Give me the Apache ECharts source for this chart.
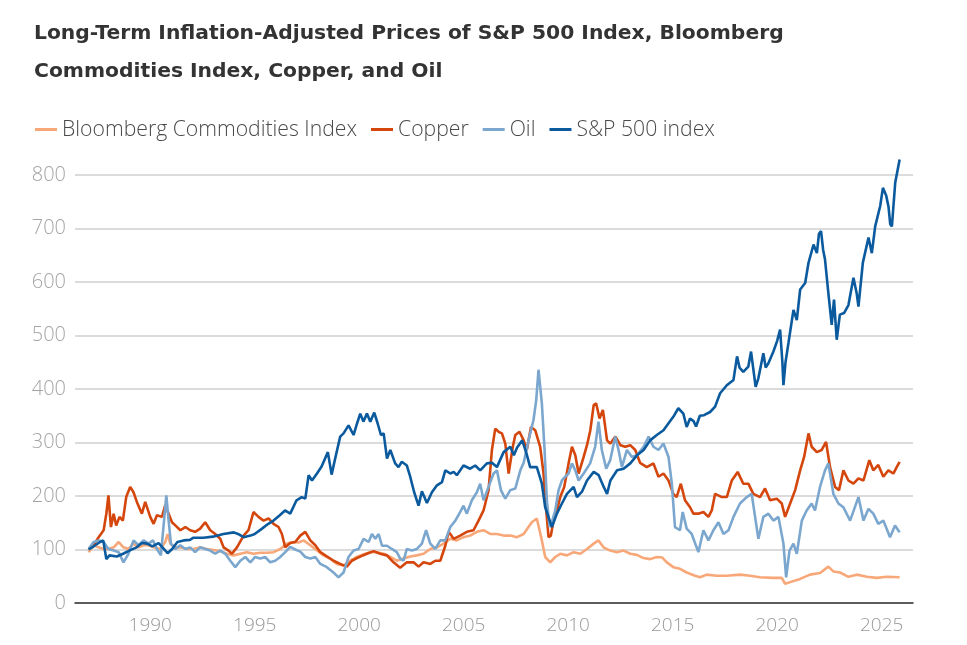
<!DOCTYPE html>
<html>
<head>
<meta charset="utf-8">
<script src="https://cdn.jsdelivr.net/npm/echarts@6/dist/echarts.min.js"></script>
<style>
  html, body { margin: 0; padding: 0; background: #fff; }
  #chart { width: 967px; height: 645px; }
</style>
</head>
<body>
<div id="chart"></div>
<script>
// values, [year, inflation-adjusted index]
const yearTicks = [1990, 1995, 2000, 2005, 2010, 2015, 2020, 2025]
const valueTicks = [0, 100, 200, 300, 400, 500, 600, 700, 800]

const bloomberg = [
  [1987.05,95],[1987.29,108],[1987.53,104],[1987.77,101],[1988.0,101],[1988.25,104],[1988.49,114],[1988.72,104],
  [1988.96,101],[1989.2,111],[1989.44,104],[1989.68,108],[1989.92,108],[1990.16,104],[1990.48,101],[1990.72,114],
  [1990.83,129],[1990.96,111],[1991.2,104],[1991.44,104],[1991.76,101],[1992.08,101],[1992.39,104],[1992.71,101],
  [1993.03,99],[1993.35,97],[1993.67,92],[1993.99,89],[1994.31,92],[1994.63,95],[1994.94,92],[1995.26,94],
  [1995.58,94],[1995.9,95],[1996.22,101],[1996.54,111],[1996.86,114],[1997.1,113],[1997.34,117],[1997.66,108],
  [1997.98,98],[1998.29,89],[1998.61,83],[1998.93,73],[1999.25,70],[1999.57,79],[1999.89,86],[2000.21,91],
  [2000.53,95],[2000.85,95],[2001.17,92],[2001.49,86],[2001.8,79],[2002.12,83],[2002.44,87],[2002.76,89],
  [2003.08,92],[2003.4,101],[2003.72,104],[2004.04,111],[2004.36,120],[2004.67,117],[2004.99,123],[2005.31,126],
  [2005.63,133],[2005.95,136],[2006.27,129],[2006.59,129],[2006.91,126],[2007.23,126],[2007.55,123],[2007.87,129],
  [2008.1,142],[2008.26,151],[2008.5,158],[2008.74,117],[2008.9,86],[2009.14,76],[2009.38,86],[2009.62,92],
  [2009.94,89],[2010.26,95],[2010.58,92],[2010.9,101],[2011.22,111],[2011.45,117],[2011.69,104],[2012.01,98],
  [2012.33,95],[2012.65,98],[2012.97,92],[2013.29,90],[2013.6,84],[2013.92,82],[2014.24,86],[2014.5,85],
  [2014.72,76],[2015.03,67],[2015.35,64],[2015.67,57],[2016.07,51],[2016.31,48],[2016.63,53],[2017.11,51],
  [2017.59,51],[2018.22,53],[2018.7,51],[2019.18,48],[2019.82,47],[2020.22,47],[2020.38,36],[2020.62,39],
  [2021.1,45],[2021.57,53],[2022.05,56],[2022.45,68],[2022.69,59],[2023.01,57],[2023.41,49],[2023.81,53],
  [2024.29,49],[2024.76,47],[2025.24,49],[2025.86,48]
]

const copper = [
  [1987.05,101],[1987.29,108],[1987.53,123],[1987.77,136],[1987.9,167],[1988.0,201],[1988.12,142],[1988.25,167],
  [1988.37,145],[1988.53,161],[1988.69,154],[1988.85,198],[1989.04,217],[1989.2,207],[1989.36,189],[1989.6,167],
  [1989.76,189],[1990.0,161],[1990.16,148],[1990.32,164],[1990.56,161],[1990.72,183],[1990.88,167],[1991.04,151],
  [1991.2,145],[1991.44,136],[1991.68,142],[1991.91,136],[1992.15,133],[1992.39,139],[1992.63,151],[1992.87,136],
  [1993.11,129],[1993.35,120],[1993.51,104],[1993.75,98],[1993.91,92],[1994.15,104],[1994.47,126],[1994.7,136],
  [1994.94,170],[1995.18,161],[1995.42,154],[1995.66,158],[1995.9,148],[1996.14,142],[1996.3,129],[1996.46,104],
  [1996.7,112],[1996.94,114],[1997.18,126],[1997.42,133],[1997.66,117],[1997.9,108],[1998.14,95],[1998.45,87],
  [1998.77,79],[1999.09,73],[1999.41,68],[1999.65,79],[1999.89,84],[2000.13,88],[2000.37,92],[2000.69,97],
  [2001.0,92],[2001.33,89],[2001.64,76],[2001.96,66],[2002.28,76],[2002.6,76],[2002.84,68],[2003.08,76],
  [2003.4,73],[2003.64,79],[2003.88,79],[2004.12,107],[2004.28,133],[2004.52,120],[2004.83,126],[2005.15,133],
  [2005.47,136],[2005.71,154],[2005.95,173],[2006.19,211],[2006.35,286],[2006.51,326],[2006.67,320],[2006.83,317],
  [2006.99,298],[2007.15,242],[2007.35,292],[2007.47,314],[2007.67,320],[2007.87,304],[2008.02,286],[2008.22,329],
  [2008.42,323],[2008.66,292],[2008.82,242],[2008.95,173],[2009.06,123],[2009.17,126],[2009.3,154],[2009.46,173],
  [2009.62,198],[2009.81,217],[2010.02,261],[2010.18,292],[2010.34,276],[2010.5,242],[2010.74,273],[2010.9,295],
  [2011.06,323],[2011.22,370],[2011.34,373],[2011.5,345],[2011.66,361],[2011.86,304],[2012.02,298],[2012.26,311],
  [2012.5,295],[2012.73,292],[2012.97,295],[2013.21,286],[2013.44,262],[2013.76,254],[2014.08,261],[2014.32,236],
  [2014.56,242],[2014.8,229],[2015.03,204],[2015.19,198],[2015.39,223],[2015.59,192],[2015.83,179],[2015.99,167],
  [2016.23,167],[2016.47,170],[2016.71,161],[2016.87,173],[2017.03,204],[2017.35,198],[2017.59,198],[2017.83,229],
  [2018.11,245],[2018.38,223],[2018.62,223],[2018.86,204],[2019.18,198],[2019.42,214],[2019.66,192],[2019.98,195],
  [2020.22,186],[2020.38,161],[2020.62,186],[2020.86,211],[2021.1,248],[2021.29,273],[2021.5,317],[2021.65,292],
  [2021.9,282],[2022.13,286],[2022.34,301],[2022.53,254],[2022.77,217],[2022.96,211],[2023.17,248],[2023.41,229],
  [2023.65,223],[2023.89,233],[2024.13,229],[2024.41,267],[2024.6,248],[2024.84,258],[2025.08,236],[2025.32,248],
  [2025.56,242],[2025.72,254],[2025.86,264]
]

const oil = [
  [1987.05,101],[1987.29,114],[1987.53,117],[1987.77,114],[1988.0,101],[1988.25,98],[1988.49,95],[1988.72,76],
  [1988.96,92],[1989.2,117],[1989.44,108],[1989.68,117],[1989.92,111],[1990.13,117],[1990.32,101],[1990.51,89],
  [1990.67,158],[1990.77,201],[1990.88,154],[1990.99,111],[1991.2,101],[1991.44,108],[1991.68,101],[1991.91,104],
  [1992.15,95],[1992.39,104],[1992.63,101],[1992.87,98],[1993.11,92],[1993.35,98],[1993.59,92],[1993.83,79],
  [1994.07,67],[1994.31,79],[1994.55,86],[1994.79,76],[1995.02,86],[1995.26,83],[1995.5,86],[1995.74,76],
  [1995.98,79],[1996.22,86],[1996.46,95],[1996.7,105],[1996.94,100],[1997.18,96],[1997.42,86],[1997.66,83],
  [1997.9,86],[1998.14,73],[1998.45,67],[1998.77,57],[1999.01,48],[1999.25,57],[1999.49,86],[1999.73,98],
  [1999.97,101],[2000.21,120],[2000.45,114],[2000.61,129],[2000.77,120],[2000.93,129],[2001.09,107],[2001.33,107],
  [2001.56,101],[2001.8,95],[2001.96,83],[2002.12,79],[2002.28,101],[2002.52,98],[2002.76,101],[2003.0,111],
  [2003.2,136],[2003.4,111],[2003.64,101],[2003.88,117],[2004.12,117],[2004.36,142],[2004.6,154],[2004.83,170],
  [2004.99,182],[2005.15,167],[2005.39,192],[2005.63,207],[2005.79,223],[2005.95,192],[2006.19,217],[2006.43,242],
  [2006.59,248],[2006.78,211],[2006.99,195],[2007.23,211],[2007.47,214],[2007.71,248],[2007.87,262],[2008.1,304],
  [2008.34,342],[2008.47,379],[2008.58,436],[2008.74,373],[2008.87,286],[2008.98,192],[2009.11,142],[2009.22,151],
  [2009.38,173],[2009.54,211],[2009.7,229],[2009.86,236],[2010.02,242],[2010.18,261],[2010.34,248],[2010.5,229],
  [2010.74,242],[2011.05,261],[2011.29,292],[2011.45,339],[2011.61,286],[2011.82,251],[2012.01,267],[2012.25,311],
  [2012.41,286],[2012.57,254],[2012.81,286],[2013.05,273],[2013.29,276],[2013.61,292],[2013.85,311],[2014.08,292],
  [2014.32,286],[2014.56,298],[2014.8,273],[2014.96,223],[2015.11,142],[2015.35,136],[2015.48,170],[2015.67,139],
  [2015.91,129],[2016.23,95],[2016.47,136],[2016.71,117],[2016.95,136],[2017.19,151],[2017.43,129],[2017.67,136],
  [2017.91,161],[2018.22,186],[2018.54,198],[2018.78,204],[2019.1,120],[2019.34,161],[2019.58,167],[2019.82,154],
  [2020.06,161],[2020.3,111],[2020.43,48],[2020.59,98],[2020.78,111],[2020.94,92],[2021.18,154],[2021.41,173],
  [2021.65,186],[2021.81,173],[2022.05,217],[2022.29,248],[2022.45,261],[2022.69,204],[2022.93,186],[2023.17,179],
  [2023.49,154],[2023.89,198],[2024.13,154],[2024.37,176],[2024.6,167],[2024.84,148],[2025.08,154],[2025.4,123],
  [2025.64,145],[2025.86,132]
]

const sp500 = [
  [1987.05,100],[1987.3,106],[1987.6,114],[1987.75,117],[1987.9,82],[1988.05,89],[1988.4,87],[1988.7,92],
  [1989.0,98],[1989.35,104],[1989.6,112],[1989.85,111],[1990.1,106],[1990.4,112],[1990.65,101],[1990.83,93],
  [1991.05,101],[1991.3,114],[1991.6,117],[1991.9,118],[1992.07,122],[1992.55,122],[1993.0,124],[1993.5,129],
  [1994.0,132],[1994.2,129],[1994.47,123],[1994.8,126],[1995.0,129],[1995.35,139],[1995.65,148],[1995.9,154],
  [1996.2,164],[1996.45,173],[1996.7,167],[1997.0,192],[1997.25,198],[1997.42,195],[1997.58,239],[1997.74,229],
  [1997.98,242],[1998.2,255],[1998.5,282],[1998.68,240],[1998.85,270],[1999.09,311],[1999.25,317],[1999.49,332],
  [1999.73,314],[1999.9,336],[2000.05,354],[2000.2,339],[2000.37,354],[2000.53,339],[2000.72,356],[2000.88,336],
  [2001.04,314],[2001.17,317],[2001.33,270],[2001.49,286],[2001.72,261],[2001.88,254],[2002.04,264],[2002.28,257],
  [2002.44,236],[2002.63,207],[2002.84,182],[2003.0,209],[2003.24,187],[2003.48,207],[2003.72,220],[2003.96,226],
  [2004.12,248],[2004.36,242],[2004.52,245],[2004.67,239],[2004.99,257],[2005.31,251],[2005.55,257],[2005.79,248],
  [2006.11,261],[2006.35,262],[2006.59,254],[2006.91,282],[2007.23,292],[2007.4,276],[2007.55,290],[2007.8,304],
  [2008.0,280],[2008.18,254],[2008.5,254],[2008.74,223],[2008.9,179],[2009.14,151],[2009.22,142],[2009.46,167],
  [2009.7,186],[2009.94,204],[2010.26,217],[2010.42,198],[2010.66,208],[2010.9,229],[2011.22,245],[2011.46,239],
  [2011.7,217],[2011.86,204],[2012.02,229],[2012.34,248],[2012.65,251],[2012.97,261],[2013.29,276],[2013.61,286],
  [2013.92,304],[2014.24,314],[2014.56,323],[2014.88,340],[2015.03,348],[2015.27,364],[2015.51,354],[2015.67,329],
  [2015.83,345],[2016.0,340],[2016.12,330],[2016.3,350],[2016.5,351],[2016.79,357],[2017.03,367],[2017.27,392],
  [2017.59,407],[2017.91,417],[2018.08,461],[2018.2,440],[2018.38,432],[2018.62,442],[2018.75,470],[2018.97,404],
  [2019.1,420],[2019.34,467],[2019.45,440],[2019.58,448],[2019.82,470],[2020.0,490],[2020.14,511],[2020.25,450],
  [2020.3,407],[2020.4,450],[2020.54,486],[2020.78,548],[2020.94,529],[2021.1,586],[2021.34,598],[2021.5,636],
  [2021.74,670],[2021.9,654],[2022.0,690],[2022.1,695],[2022.2,660],[2022.29,642],[2022.45,579],[2022.61,520],
  [2022.72,567],[2022.85,492],[2023.0,539],[2023.2,542],[2023.41,557],[2023.65,608],[2023.8,580],[2023.89,554],
  [2024.1,636],[2024.37,683],[2024.53,654],[2024.69,704],[2024.93,742],[2025.06,776],[2025.22,761],[2025.33,740],
  [2025.41,708],[2025.49,704],[2025.65,786],[2025.86,829]
]

const seriesNames = ['Bloomberg Commodities Index', 'Copper', 'Oil', 'S&P 500 index']
const seriesColors = ['#f8a878', '#d4460c', '#7ba7cf', '#0b5a9e']
const seriesData = [bloomberg, copper, oil, sp500]

const chart = echarts.init(document.getElementById('chart'))

chart.setOption({
  animation: false,
  backgroundColor: '#fff',
  title: {
    text: 'Long-Term Inflation-Adjusted Prices of S&P 500 Index, Bloomberg\nCommodities Index, Copper, and Oil',
    left: 29,
    top: 10,
    textStyle: {
      fontFamily: 'DejaVu Sans',
      fontSize: 20.3,
      fontWeight: 'bold',
      color: '#333',
      lineHeight: 38
    }
  },
  legend: {
    left: 30,
    top: 114,
    icon: 'rect',
    itemWidth: 22,
    itemHeight: 3,
    itemGap: 14,
    textStyle: {
      fontFamily: 'Open Sans',
      fontWeight: 300,
      fontSize: 21.2,
      color: '#4a4a4a'
    },
    data: seriesNames
  },
  grid: { left: 75, right: 54, top: 175, bottom: 42 },
  xAxis: {
    type: 'value',
    min: 1986.4,
    max: 2026.5,
    axisLine: { lineStyle: { color: '#333', width: 1.5 } },
    axisTick: { show: false },
    splitLine: { show: false },
    axisLabel: {
      customValues: yearTicks,
      formatter: v => String(v),
      margin: 13,
      fontFamily: 'Open Sans',
      fontWeight: 300,
      fontSize: 19,
      color: '#999'
    }
  },
  yAxis: {
    type: 'value',
    min: valueTicks[0],
    max: valueTicks[valueTicks.length - 1],
    interval: 100,
    axisLine: { show: false },
    axisTick: { show: false },
    splitLine: { lineStyle: { color: '#cfcfcf', width: 1.5 } },
    axisLabel: {
      margin: 9,
      fontFamily: 'Open Sans',
      fontWeight: 300,
      fontSize: 20,
      color: '#a5a5a5'
    }
  },
  series: seriesData.map((d, i) => ({
    name: seriesNames[i],
    type: 'line',
    data: d,
    showSymbol: false,
    symbol: 'none',
    clip: false,
    itemStyle: { color: seriesColors[i] },
    lineStyle: { color: seriesColors[i], width: 2.6 }
  }))
})
</script>
</body>
</html>
